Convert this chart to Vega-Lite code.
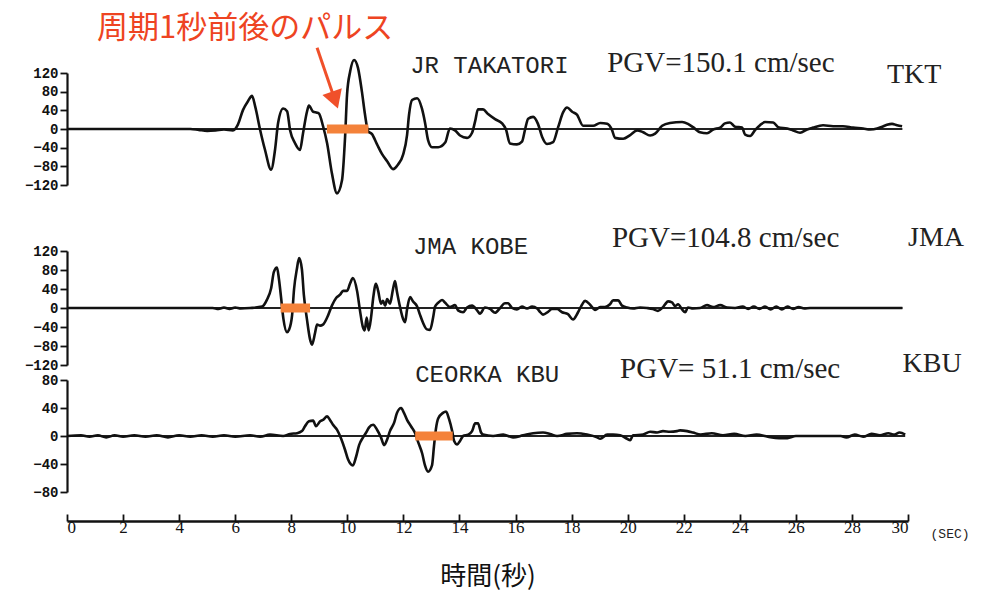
{
  "$schema": "https://vega.github.io/schema/vega-lite/v6.json",
  "width": 841,
  "height": 521,
  "autosize": {"type": "none"},
  "padding": {"left": 67, "top": 0, "right": 76, "bottom": 72},
  "background": "white",
  "config": {
    "view": {"stroke": null},
    "axis": {"grid": false, "domainColor": "#111", "tickColor": "#111", "labelColor": "#111", "titleColor": "#111"},
    "axisY": {"labelFont": "Liberation Mono", "labelFontWeight": "bold", "labelFontSize": 14, "tickSize": 7, "tickWidth": 1.8, "domainWidth": 2.2, "labelPadding": 2, "title": null},
    "axisX": {"labelFont": "Liberation Serif", "labelFontSize": 17, "tickSize": -7, "tickWidth": 1.8, "domainWidth": 2.4, "labelPadding": 5}
  },
  "datasets": {
    "tkt": [{"t":0,"v":0},{"t":4.4,"v":0},{"t":4.7,"v":-2},{"t":5.0,"v":-4},{"t":5.3,"v":-3},{"t":5.6,"v":-1},{"t":5.92,"v":-3},{"t":6.10,"v":10},{"t":6.28,"v":41},{"t":6.46,"v":60},{"t":6.60,"v":71},{"t":6.71,"v":49},{"t":6.89,"v":-2},{"t":7.06,"v":-44},{"t":7.28,"v":-87},{"t":7.42,"v":-45},{"t":7.53,"v":13},{"t":7.71,"v":44},{"t":7.85,"v":38},{"t":7.96,"v":-3},{"t":8.13,"v":-30},{"t":8.31,"v":-45},{"t":8.42,"v":-9},{"t":8.56,"v":37},{"t":8.63,"v":50},{"t":8.78,"v":37},{"t":8.92,"v":35},{"t":8.99,"v":33},{"t":9.13,"v":7},{"t":9.28,"v":-31},{"t":9.45,"v":-95},{"t":9.63,"v":-138},{"t":9.81,"v":-110},{"t":9.92,"v":-17},{"t":9.99,"v":74},{"t":10.10,"v":123},{"t":10.24,"v":148},{"t":10.38,"v":131},{"t":10.52,"v":80},{"t":10.63,"v":31},{"t":10.74,"v":-5},{"t":10.88,"v":-11},{"t":11.06,"v":-33},{"t":11.24,"v":-54},{"t":11.42,"v":-69},{"t":11.63,"v":-86},{"t":11.81,"v":-76},{"t":11.99,"v":-55},{"t":12.13,"v":-13},{"t":12.20,"v":30},{"t":12.31,"v":62},{"t":12.49,"v":66},{"t":12.66,"v":44},{"t":12.77,"v":14},{"t":12.88,"v":-24},{"t":13.02,"v":-39},{"t":13.24,"v":-39},{"t":13.49,"v":-29},{"t":13.66,"v":1},{"t":13.84,"v":-3},{"t":14.02,"v":-14},{"t":14.27,"v":-19},{"t":14.45,"v":-8},{"t":14.56,"v":17},{"t":14.66,"v":42},{"t":14.84,"v":42},{"t":15.02,"v":32},{"t":15.27,"v":21},{"t":15.52,"v":12},{"t":15.66,"v":-1},{"t":15.80,"v":-31},{"t":16.05,"v":-33},{"t":16.23,"v":-27},{"t":16.34,"v":-1},{"t":16.45,"v":22},{"t":16.63,"v":26},{"t":16.80,"v":11},{"t":16.95,"v":-17},{"t":17.12,"v":-32},{"t":17.34,"v":-28},{"t":17.52,"v":4},{"t":17.70,"v":36},{"t":17.84,"v":46},{"t":18.02,"v":37},{"t":18.19,"v":31},{"t":18.41,"v":7},{"t":18.77,"v":7},{"t":19.02,"v":13},{"t":19.27,"v":11},{"t":19.44,"v":-2},{"t":19.55,"v":-19},{"t":19.84,"v":-21},{"t":20.09,"v":-13},{"t":20.34,"v":-3},{"t":20.55,"v":-7},{"t":20.80,"v":-14},{"t":20.98,"v":-10},{"t":21.23,"v":7},{"t":21.51,"v":13},{"t":21.94,"v":15},{"t":22.15,"v":11},{"t":22.33,"v":4},{"t":22.58,"v":-7},{"t":22.83,"v":-9},{"t":23.05,"v":-1},{"t":23.30,"v":3},{"t":23.47,"v":12},{"t":23.65,"v":14},{"t":23.83,"v":5},{"t":24.08,"v":3},{"t":24.19,"v":-12},{"t":24.37,"v":-15},{"t":24.55,"v":-2},{"t":24.72,"v":8},{"t":24.90,"v":15},{"t":25.19,"v":14},{"t":25.37,"v":4},{"t":25.69,"v":1},{"t":25.90,"v":-3},{"t":26.15,"v":-8},{"t":26.40,"v":-1},{"t":26.61,"v":3},{"t":26.97,"v":8},{"t":27.33,"v":6},{"t":27.68,"v":6},{"t":28.04,"v":3},{"t":28.40,"v":1},{"t":28.65,"v":-1},{"t":28.90,"v":1},{"t":29.08,"v":5},{"t":29.25,"v":9},{"t":29.43,"v":11},{"t":29.61,"v":8},{"t":29.79,"v":6}],
    "jma": [{"t":0,"v":0},{"t":5.2,"v":0},{"t":5.4,"v":-2},{"t":5.6,"v":1},{"t":5.8,"v":-2},{"t":6.0,"v":1},{"t":6.2,"v":-1},{"t":6.53,"v":0},{"t":6.96,"v":3},{"t":7.13,"v":17},{"t":7.28,"v":41},{"t":7.38,"v":76},{"t":7.49,"v":85},{"t":7.56,"v":61},{"t":7.64,"v":20},{"t":7.72,"v":-23},{"t":7.85,"v":-51},{"t":7.92,"v":-46},{"t":8.03,"v":-15},{"t":8.10,"v":40},{"t":8.20,"v":82},{"t":8.28,"v":105},{"t":8.38,"v":81},{"t":8.45,"v":27},{"t":8.56,"v":-24},{"t":8.67,"v":-66},{"t":8.74,"v":-77},{"t":8.85,"v":-52},{"t":8.92,"v":-35},{"t":9.03,"v":-37},{"t":9.13,"v":-35},{"t":9.28,"v":-20},{"t":9.45,"v":5},{"t":9.60,"v":21},{"t":9.74,"v":28},{"t":9.85,"v":36},{"t":9.99,"v":36},{"t":10.10,"v":52},{"t":10.20,"v":63},{"t":10.35,"v":35},{"t":10.45,"v":-5},{"t":10.55,"v":-39},{"t":10.62,"v":-47},{"t":10.69,"v":-20},{"t":10.76,"v":-47},{"t":10.85,"v":-18},{"t":10.92,"v":20},{"t":11.02,"v":51},{"t":11.10,"v":36},{"t":11.20,"v":9},{"t":11.27,"v":15},{"t":11.35,"v":5},{"t":11.42,"v":19},{"t":11.52,"v":9},{"t":11.63,"v":40},{"t":11.70,"v":57},{"t":11.77,"v":34},{"t":11.88,"v":2},{"t":11.99,"v":-23},{"t":12.06,"v":-30},{"t":12.13,"v":-3},{"t":12.24,"v":23},{"t":12.34,"v":14},{"t":12.49,"v":3},{"t":12.59,"v":-14},{"t":12.70,"v":-31},{"t":12.84,"v":-45},{"t":12.95,"v":-46},{"t":13.06,"v":-20},{"t":13.13,"v":3},{"t":13.24,"v":11},{"t":13.38,"v":17},{"t":13.49,"v":11},{"t":13.66,"v":2},{"t":13.84,"v":6},{"t":13.95,"v":-5},{"t":14.13,"v":-9},{"t":14.27,"v":1},{"t":14.45,"v":5},{"t":14.63,"v":-5},{"t":14.73,"v":-12},{"t":14.91,"v":1},{"t":15.09,"v":-2},{"t":15.27,"v":-10},{"t":15.45,"v":0},{"t":15.62,"v":10},{"t":15.73,"v":10},{"t":15.88,"v":0},{"t":16.05,"v":-3},{"t":16.23,"v":3},{"t":16.41,"v":-1},{"t":16.59,"v":3},{"t":16.77,"v":-1},{"t":16.87,"v":-8},{"t":16.98,"v":-14},{"t":17.16,"v":-8},{"t":17.30,"v":-2},{"t":17.48,"v":-2},{"t":17.66,"v":-9},{"t":17.87,"v":-13},{"t":18.05,"v":-24},{"t":18.23,"v":-9},{"t":18.37,"v":7},{"t":18.48,"v":15},{"t":18.66,"v":7},{"t":18.84,"v":-4},{"t":19.02,"v":2},{"t":19.19,"v":2},{"t":19.37,"v":8},{"t":19.48,"v":16},{"t":19.66,"v":16},{"t":19.80,"v":5},{"t":19.98,"v":1},{"t":20.19,"v":-1},{"t":20.44,"v":1},{"t":20.69,"v":0},{"t":20.90,"v":-2},{"t":21.08,"v":-6},{"t":21.23,"v":0},{"t":21.34,"v":8},{"t":21.44,"v":14},{"t":21.58,"v":12},{"t":21.69,"v":4},{"t":21.80,"v":8},{"t":21.94,"v":-3},{"t":22.05,"v":-9},{"t":22.15,"v":1},{"t":22.33,"v":-1},{"t":22.58,"v":0},{"t":22.83,"v":6},{"t":23.05,"v":2},{"t":23.30,"v":6},{"t":23.55,"v":1},{"t":23.83,"v":0},{"t":24.1,"v":3},{"t":24.3,"v":-2},{"t":24.5,"v":3},{"t":24.7,"v":-2},{"t":24.9,"v":3},{"t":25.1,"v":-3},{"t":25.3,"v":3},{"t":25.5,"v":-3},{"t":25.7,"v":3},{"t":25.9,"v":-2},{"t":26.1,"v":2},{"t":26.3,"v":-1},{"t":26.5,"v":0},{"t":29.8,"v":0}],
    "kbu": [{"t":0,"v":0},{"t":0.5,"v":1},{"t":0.8,"v":-1},{"t":1.1,"v":1},{"t":1.4,"v":-2},{"t":1.7,"v":1},{"t":2.0,"v":-1},{"t":2.4,"v":1},{"t":2.8,"v":-1},{"t":3.2,"v":1},{"t":3.6,"v":-2},{"t":4.0,"v":1},{"t":4.4,"v":-1},{"t":4.8,"v":1},{"t":5.2,"v":-1},{"t":5.6,"v":1},{"t":6.0,"v":-1},{"t":6.53,"v":1},{"t":6.89,"v":-1},{"t":7.24,"v":2},{"t":7.71,"v":0},{"t":7.96,"v":3},{"t":8.21,"v":4},{"t":8.38,"v":7},{"t":8.49,"v":14},{"t":8.63,"v":21},{"t":8.78,"v":22},{"t":8.88,"v":14},{"t":9.03,"v":21},{"t":9.13,"v":23},{"t":9.28,"v":28},{"t":9.38,"v":23},{"t":9.49,"v":16},{"t":9.63,"v":9},{"t":9.78,"v":-4},{"t":9.92,"v":-20},{"t":10.02,"v":-33},{"t":10.20,"v":-42},{"t":10.31,"v":-30},{"t":10.42,"v":-13},{"t":10.56,"v":-2},{"t":10.67,"v":5},{"t":10.77,"v":12},{"t":10.92,"v":16},{"t":11.06,"v":9},{"t":11.20,"v":-2},{"t":11.31,"v":-13},{"t":11.42,"v":-5},{"t":11.52,"v":7},{"t":11.67,"v":19},{"t":11.77,"v":33},{"t":11.92,"v":40},{"t":12.02,"v":33},{"t":12.13,"v":23},{"t":12.27,"v":14},{"t":12.42,"v":4},{"t":12.52,"v":-8},{"t":12.67,"v":-25},{"t":12.77,"v":-42},{"t":12.88,"v":-51},{"t":13.02,"v":-42},{"t":13.09,"v":-15},{"t":13.16,"v":10},{"t":13.24,"v":25},{"t":13.41,"v":33},{"t":13.52,"v":35},{"t":13.63,"v":24},{"t":13.74,"v":7},{"t":13.81,"v":-7},{"t":13.92,"v":-12},{"t":14.02,"v":-7},{"t":14.13,"v":0},{"t":14.31,"v":2},{"t":14.45,"v":7},{"t":14.56,"v":18},{"t":14.66,"v":18},{"t":14.77,"v":5},{"t":14.84,"v":2},{"t":15.20,"v":0},{"t":15.56,"v":2},{"t":15.91,"v":-2},{"t":16.27,"v":1},{"t":16.63,"v":4},{"t":16.98,"v":5},{"t":17.23,"v":3},{"t":17.48,"v":0},{"t":17.84,"v":3},{"t":18.19,"v":4},{"t":18.55,"v":2},{"t":18.91,"v":-2},{"t":19.02,"v":-4},{"t":19.27,"v":2},{"t":19.48,"v":2},{"t":19.73,"v":1},{"t":19.98,"v":-4},{"t":20.09,"v":-6},{"t":20.19,"v":1},{"t":20.55,"v":2},{"t":20.80,"v":6},{"t":21.05,"v":5},{"t":21.26,"v":7},{"t":21.51,"v":6},{"t":21.76,"v":7},{"t":21.87,"v":8},{"t":22.12,"v":7},{"t":22.33,"v":5},{"t":22.6,"v":2},{"t":23.0,"v":4},{"t":23.4,"v":1},{"t":23.8,"v":3},{"t":24.2,"v":0},{"t":24.6,"v":2},{"t":25.0,"v":-1},{"t":25.4,"v":-3},{"t":25.7,"v":-3},{"t":26.0,"v":0},{"t":27.6,"v":0},{"t":27.8,"v":-2},{"t":28.1,"v":2},{"t":28.4,"v":-1},{"t":28.7,"v":3},{"t":29.0,"v":1},{"t":29.3,"v":4},{"t":29.5,"v":2},{"t":29.7,"v":5},{"t":29.9,"v":2}]
  },
  "encoding": {
    "x": {"field": "t", "type": "quantitative", "scale": {"domain": [0, 30], "nice": false, "zero": false},
      "axis": {"values": [0,2,4,6,8,10,12,14,16,18,20,22,24,26,28,30], "title": "時間(秒)", "titleFont": "Noto Sans CJK JP", "titleFontSize": 26, "titleFontWeight": "normal", "titlePadding": 28}}
  },
  "layer": [
    {
      "encoding": {"y": {"field": "v", "type": "quantitative", "scale": {"domain": [-120, 120], "range": [185, 73], "nice": false, "zero": false},
        "axis": {"orient": "left", "values": [-120,-80,-40,0,40,80,120]}}},
      "layer": [
        {"data": {"values": [{"t": 0, "t2": 29.8, "v": 0}]}, "mark": {"type": "rule", "color": "#222", "strokeWidth": 1.8}, "encoding": {"x2": {"field": "t2"}}},
        {"data": {"name": "tkt"}, "mark": {"type": "line", "color": "#111", "strokeWidth": 2.6, "interpolate": "monotone", "clip": false}},
        {"data": {"values": [{"t": 9.27, "t2": 10.75, "v": 0}]}, "mark": {"type": "rule", "color": "#F4823A", "strokeWidth": 9, "strokeCap": "butt"}, "encoding": {"x2": {"field": "t2"}}},
        {"data": {"values": [{"t": 8.92, "t2": 9.49, "v": 174, "v2": 74}]}, "mark": {"type": "rule", "color": "#F0502A", "strokeWidth": 3}, "encoding": {"x2": {"field": "t2"}, "y2": {"field": "v2"}}},
        {"data": {"values": [{"t": 9.56, "v": 62}]}, "mark": {"type": "point", "shape": "triangle-down", "angle": -19, "size": 420, "filled": true, "color": "#F0502A", "opacity": 1}},
        {"data": {"values": [{"t": 1.07, "v": 215, "label": "周期1秒前後のパルス"}]}, "mark": {"type": "text", "font": "Noto Sans CJK JP", "fontSize": 31, "align": "left", "baseline": "middle", "color": "#EE4422"}, "encoding": {"text": {"field": "label"}}},
        {"data": {"values": [{"t": 12.24, "v": 134, "label": "JR TAKATORI"}]}, "mark": {"type": "text", "font": "Liberation Mono", "fontSize": 24, "align": "left", "baseline": "middle", "color": "#222"}, "encoding": {"text": {"field": "label"}}},
        {"data": {"values": [{"t": 19.27, "v": 142, "label": "PGV=150.1 cm/sec"}]}, "mark": {"type": "text", "font": "Liberation Serif", "fontSize": 29, "align": "left", "baseline": "middle", "color": "#222"}, "encoding": {"text": {"field": "label"}}},
        {"data": {"values": [{"t": 30.22, "v": 115, "label": "TKT"}]}, "mark": {"type": "text", "font": "Liberation Serif", "fontSize": 28, "align": "center", "baseline": "middle", "color": "#222"}, "encoding": {"text": {"field": "label"}}}
      ]
    },
    {
      "encoding": {"y": {"field": "v", "type": "quantitative", "scale": {"domain": [-120, 120], "range": [365, 251], "nice": false, "zero": false},
        "axis": {"orient": "left", "values": [-120,-80,-40,0,40,80,120]}}},
      "layer": [
        {"data": {"values": [{"t": 0, "t2": 29.8, "v": 0}]}, "mark": {"type": "rule", "color": "#222", "strokeWidth": 1.8}, "encoding": {"x2": {"field": "t2"}}},
        {"data": {"name": "jma"}, "mark": {"type": "line", "color": "#111", "strokeWidth": 2.6, "interpolate": "monotone", "clip": false}},
        {"data": {"values": [{"t": 7.62, "t2": 8.67, "v": 0}]}, "mark": {"type": "rule", "color": "#F4823A", "strokeWidth": 9, "strokeCap": "butt"}, "encoding": {"x2": {"field": "t2"}}},
        {"data": {"values": [{"t": 12.34, "v": 128, "label": "JMA KOBE"}]}, "mark": {"type": "text", "font": "Liberation Mono", "fontSize": 24, "align": "left", "baseline": "middle", "color": "#222"}, "encoding": {"text": {"field": "label"}}},
        {"data": {"values": [{"t": 19.44, "v": 147, "label": "PGV=104.8 cm/sec"}]}, "mark": {"type": "text", "font": "Liberation Serif", "fontSize": 29, "align": "left", "baseline": "middle", "color": "#222"}, "encoding": {"text": {"field": "label"}}},
        {"data": {"values": [{"t": 31.0, "v": 147, "label": "JMA"}]}, "mark": {"type": "text", "font": "Liberation Serif", "fontSize": 28, "align": "center", "baseline": "middle", "color": "#222"}, "encoding": {"text": {"field": "label"}}}
      ]
    },
    {
      "encoding": {"y": {"field": "v", "type": "quantitative", "scale": {"domain": [-80, 80], "range": [492, 380], "nice": false, "zero": false},
        "axis": {"orient": "left", "values": [-80,-40,0,40,80]}}},
      "layer": [
        {"data": {"values": [{"t": 0, "t2": 29.9, "v": 0}]}, "mark": {"type": "rule", "color": "#222", "strokeWidth": 1.8}, "encoding": {"x2": {"field": "t2"}}},
        {"data": {"name": "kbu"}, "mark": {"type": "line", "color": "#111", "strokeWidth": 2.6, "interpolate": "monotone", "clip": false}},
        {"data": {"values": [{"t": 12.42, "t2": 13.76, "v": 0}]}, "mark": {"type": "rule", "color": "#F4823A", "strokeWidth": 9, "strokeCap": "butt"}, "encoding": {"x2": {"field": "t2"}}},
        {"data": {"values": [{"t": 12.42, "v": 87.5, "label": "CEORKA KBU"}]}, "mark": {"type": "text", "font": "Liberation Mono", "fontSize": 24, "align": "left", "baseline": "middle", "color": "#222"}, "encoding": {"text": {"field": "label"}}},
        {"data": {"values": [{"t": 19.73, "v": 96, "label": "PGV= 51.1 cm/sec"}]}, "mark": {"type": "text", "font": "Liberation Serif", "fontSize": 29, "align": "left", "baseline": "middle", "color": "#222"}, "encoding": {"text": {"field": "label"}}},
        {"data": {"values": [{"t": 30.86, "v": 103, "label": "KBU"}]}, "mark": {"type": "text", "font": "Liberation Serif", "fontSize": 28, "align": "center", "baseline": "middle", "color": "#222"}, "encoding": {"text": {"field": "label"}}},
        {"data": {"values": [{"t": 31.5, "v": -140, "label": "(SEC)"}]}, "mark": {"type": "text", "font": "Liberation Mono", "fontSize": 13, "align": "center", "baseline": "middle", "color": "#222"}, "encoding": {"text": {"field": "label"}}}
      ]
    }
  ],
  "resolve": {"scale": {"y": "independent"}, "axis": {"y": "independent"}}
}
